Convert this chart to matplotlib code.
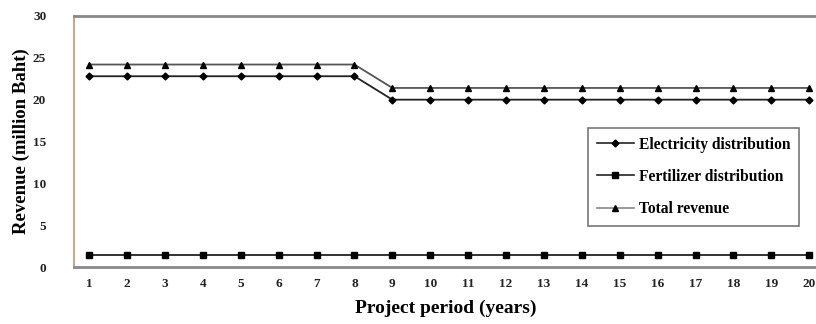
import matplotlib
matplotlib.use("Agg")
import matplotlib.pyplot as plt
from matplotlib.lines import Line2D

years = list(range(1, 21))
electricity = [22.8] * 8 + [20.0] * 12
fertilizer = [1.4] * 20
total = [24.2] * 8 + [21.4] * 12
ytick_vals = [0, 5, 10, 15, 20, 25, 30]

plt.rcParams['font.family'] = ['Liberation Serif', 'DejaVu Serif']

fig = plt.figure(figsize=(8.16, 3.24), dpi=100)
ax = fig.add_axes([74 / 816, 57 / 324, 1 - 74 / 816 + 0.002, (267 - 16) / 324])

ax.plot(years, total, color='#555555', lw=1.3, marker='^', ms=4, mfc='black', mec='black',
        label='Total revenue', zorder=3)
ax.plot(years, electricity, color='#222222', lw=1.3, marker='D', ms=3.5, mfc='black', mec='black',
        label='Electricity distribution', zorder=3)
ax.plot(years, fertilizer, color='#222222', lw=1.3, marker='s', ms=4, mfc='black', mec='black',
        label='Fertilizer distribution', zorder=3)

ax.set_xlim(0.6, 20.22)
ax.set_ylim(0, 30)
ax.set_yticks(ytick_vals)
ax.set_xticks(years)
ax.tick_params(axis='both', length=0, labelsize=9.5)
ax.tick_params(axis='y', pad=20)
ax.tick_params(axis='x', pad=8)
for lab in ax.get_xticklabels() + ax.get_yticklabels():
    lab.set_fontweight('bold')
    lab.set_color('#222222')

for side in ['top', 'bottom']:
    ax.spines[side].set_color('#888888')
    ax.spines[side].set_linewidth(2.0)
ax.spines['left'].set_color('#c8a890')
ax.spines['left'].set_linewidth(1.5)
ax.spines['right'].set_visible(False)

ax.set_xlabel('Project period (years)', fontsize=14, fontweight='bold', labelpad=7)
ax.set_ylabel('Revenue (million Baht)', fontsize=13.5, fontweight='bold')
ax.yaxis.set_label_coords(-0.059, 0.5)

handles = [
    Line2D([], [], color='#222222', lw=1.2, marker='D', ms=3.5, mfc='black', mec='black'),
    Line2D([], [], color='#222222', lw=1.2, marker='s', ms=4, mfc='black', mec='black'),
    Line2D([], [], color='#888888', lw=1.2, marker='^', ms=4, mfc='black', mec='black'),
]
labels = ['Electricity distribution', 'Fertilizer distribution', 'Total revenue']
leg = fig.legend(handles, labels, loc='upper left', bbox_to_anchor=(588 / 816, 1 - 128 / 324),
                 frameon=True, fancybox=False, handlelength=2.4, handletextpad=0.3,
                 labelspacing=1.05, borderpad=0.55, borderaxespad=0,
                 prop={'size': 11.2, 'weight': 'bold'})
leg.get_frame().set_edgecolor('#555555')
leg.get_frame().set_linewidth(1.2)

fig.savefig('out.png', dpi=100)
